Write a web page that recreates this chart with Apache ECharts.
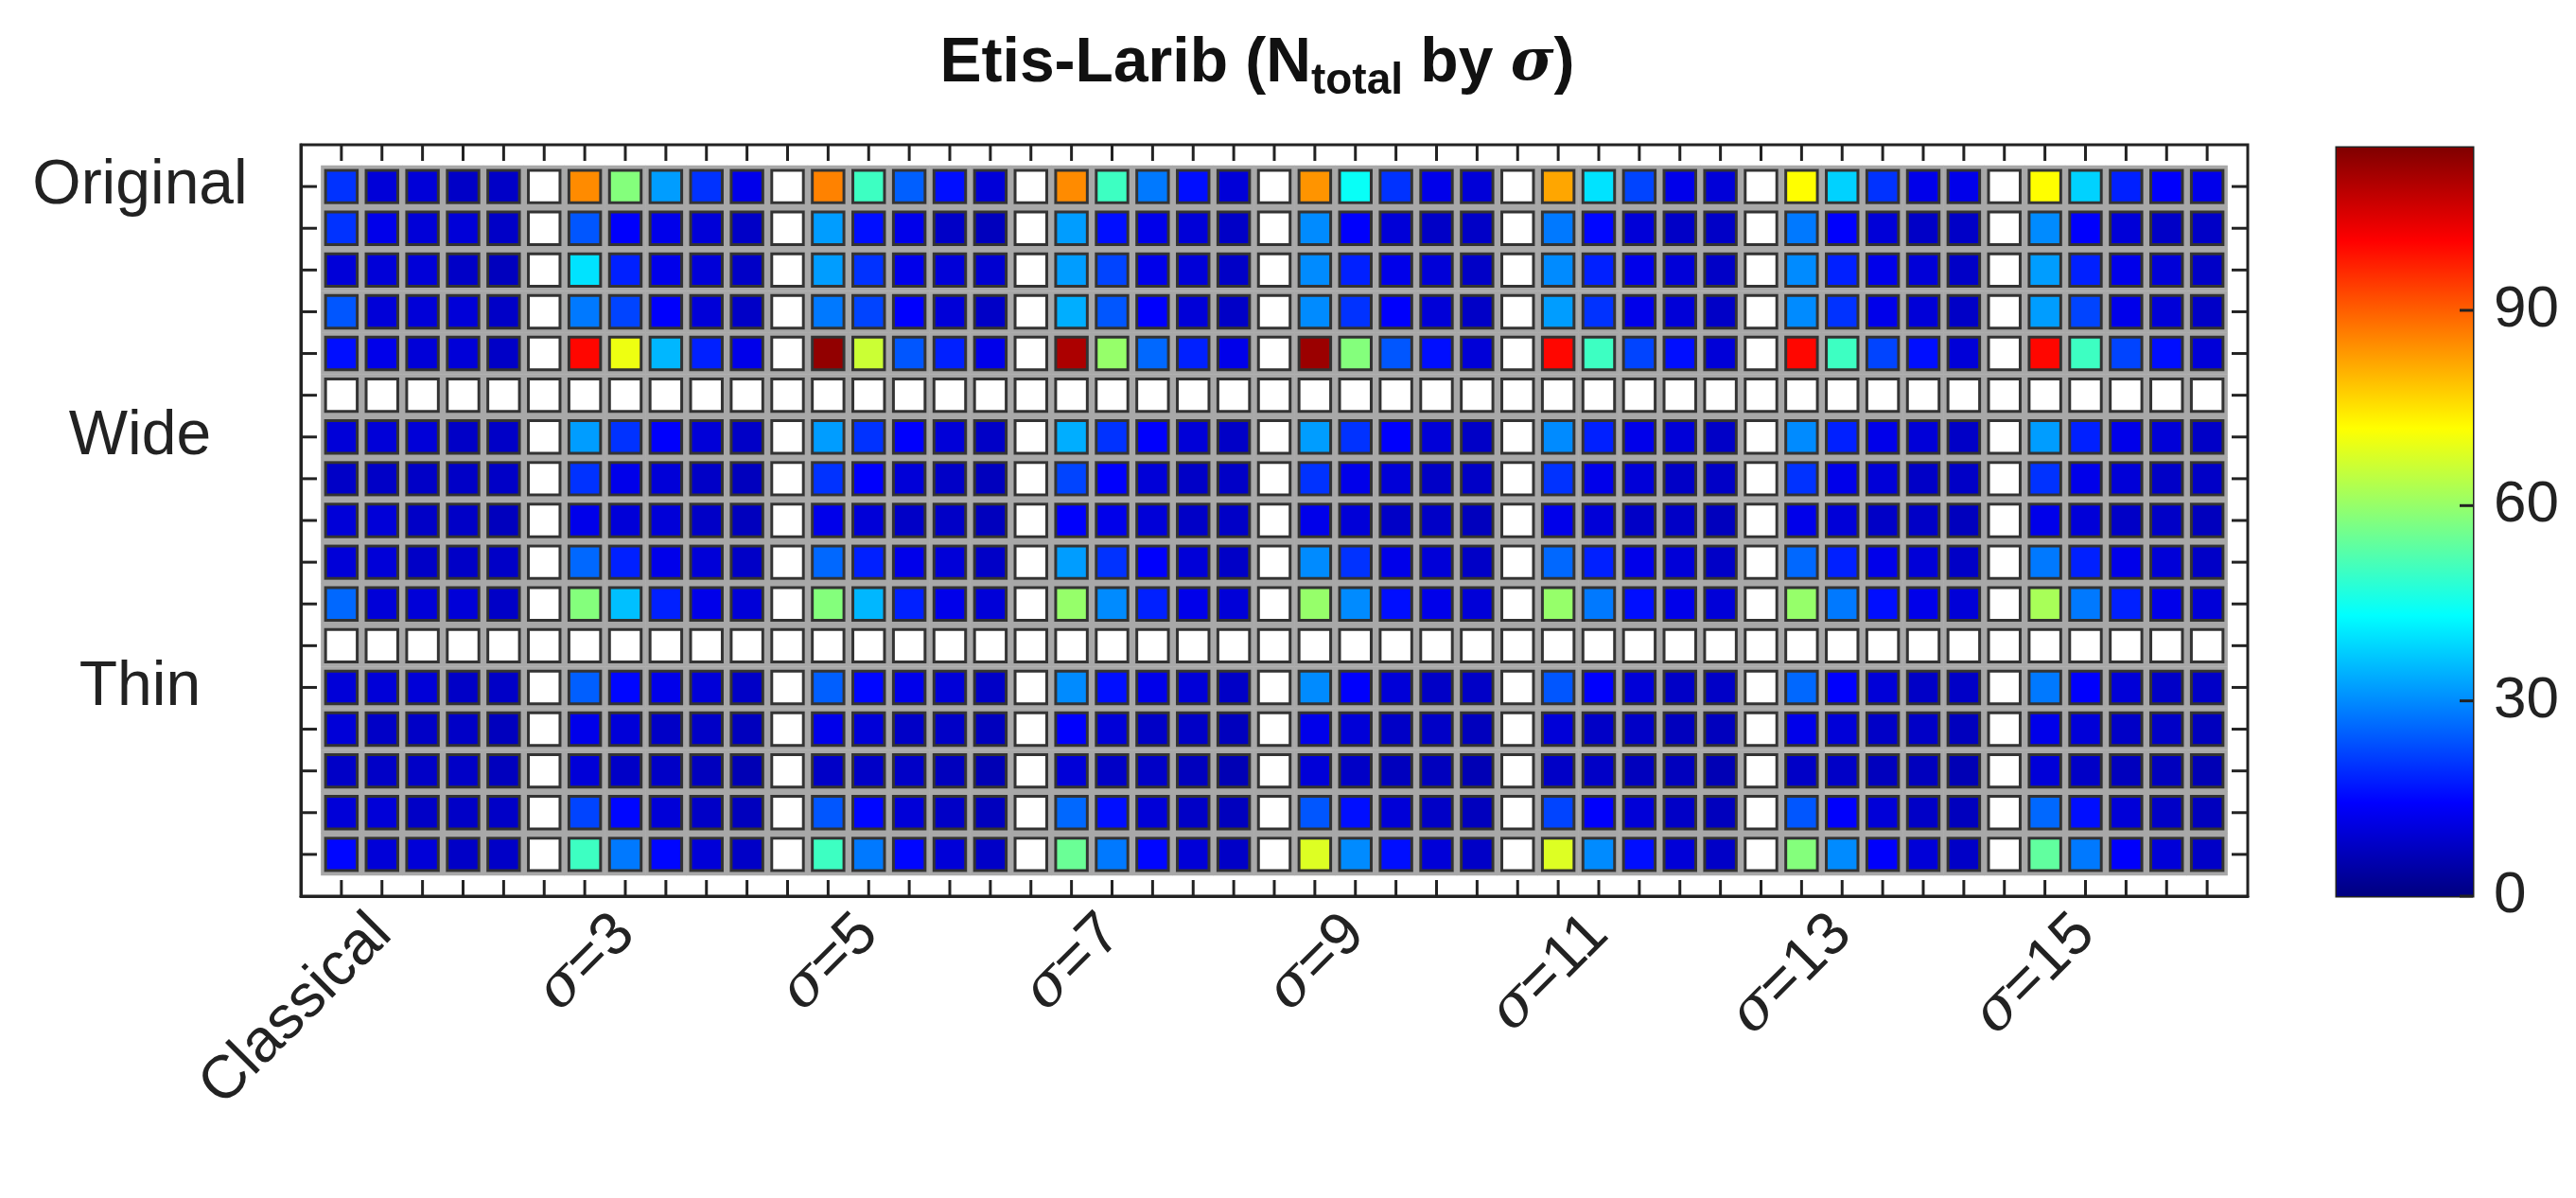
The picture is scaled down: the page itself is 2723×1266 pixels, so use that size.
<!DOCTYPE html>
<html><head><meta charset="utf-8">
<script src="https://cdn.jsdelivr.net/npm/echarts@6/dist/echarts.min.js"></script>
<style>html,body{margin:0;background:#fff}#c{width:2723px;height:1266px}</style>
</head><body><div id="c"></div>
<script>
const _ = null;
const xLabels = {1:'Classical',7:'σ=3',13:'σ=5',19:'σ=7',25:'σ=9',31:'σ=11',37:'σ=13',43:'σ=15'};
const yLabels = {0:'Original',6:'Wide',12:'Thin'};
const cbTicks = [0,30,60,90];
const vmax = 115;
const row0 = [20,10,10,8,8,_,85,58,32,20,12,_,86,50,25,16,10,_,85,50,28,16,10,_,84,44,20,12,10,_,82,40,22,12,10,_,72,38,20,12,12,_,72,38,18,14,12];
const row1 = [20,12,10,10,8,_,24,14,12,10,8,_,32,16,12,8,7,_,32,16,12,10,8,_,30,14,10,8,8,_,28,15,10,8,8,_,28,14,10,8,8,_,30,14,10,8,8];
const row2 = [10,10,10,8,7,_,40,18,12,10,8,_,32,20,12,10,9,_,32,22,12,10,8,_,30,18,12,10,8,_,30,18,12,10,8,_,30,18,12,10,8,_,32,18,12,10,8];
const row3 = [24,10,10,10,8,_,28,22,14,10,8,_,28,22,14,10,8,_,34,24,14,10,8,_,30,20,14,10,8,_,32,20,12,10,8,_,30,20,12,10,8,_,32,22,12,10,8];
const row4 = [16,12,10,10,8,_,100,70,35,18,12,_,113,66,24,18,12,_,110,60,26,18,12,_,112,58,24,16,10,_,100,50,22,16,10,_,100,50,22,16,10,_,100,50,22,16,10];
const row5 = [_,_,_,_,_,_,_,_,_,_,_,_,_,_,_,_,_,_,_,_,_,_,_,_,_,_,_,_,_,_,_,_,_,_,_,_,_,_,_,_,_,_,_,_,_,_,_];
const row6 = [10,10,10,8,8,_,32,20,14,10,8,_,32,20,14,10,8,_,34,20,14,10,8,_,32,20,14,10,8,_,30,18,12,10,8,_,30,18,12,10,8,_,32,18,12,10,8];
const row7 = [8,8,8,8,8,_,20,12,10,8,7,_,20,14,10,8,7,_,22,14,10,8,8,_,20,12,10,8,8,_,20,12,10,8,8,_,20,12,10,8,8,_,20,12,10,8,8];
const row8 = [10,10,8,8,7,_,12,10,10,8,7,_,12,10,8,8,7,_,14,12,10,8,8,_,12,10,8,8,7,_,12,10,8,8,7,_,12,10,8,8,7,_,12,10,8,8,7];
const row9 = [10,10,8,8,8,_,26,18,12,10,8,_,26,18,12,10,8,_,32,20,14,10,8,_,30,20,12,10,8,_,26,18,12,10,8,_,26,18,12,10,8,_,28,18,12,10,8];
const row10 = [26,10,10,10,8,_,58,36,18,12,10,_,58,35,18,12,10,_,60,30,18,12,10,_,60,30,16,12,10,_,60,28,16,12,10,_,60,28,16,12,10,_,62,28,18,12,10];
const row11 = [_,_,_,_,_,_,_,_,_,_,_,_,_,_,_,_,_,_,_,_,_,_,_,_,_,_,_,_,_,_,_,_,_,_,_,_,_,_,_,_,_,_,_,_,_,_,_];
const row12 = [10,10,10,8,8,_,25,15,12,10,8,_,25,15,12,10,8,_,30,16,12,10,8,_,30,14,10,8,8,_,24,14,10,8,8,_,26,14,10,8,8,_,28,14,10,8,8];
const row13 = [10,8,8,8,7,_,12,10,8,8,7,_,12,10,8,8,7,_,14,10,8,8,7,_,12,10,8,8,7,_,10,8,8,7,7,_,12,10,8,8,7,_,12,10,8,8,7];
const row14 = [8,8,8,8,7,_,10,8,8,7,6,_,8,8,8,7,6,_,10,8,8,7,6,_,10,8,7,7,6,_,8,8,7,7,6,_,8,8,7,7,6,_,10,8,7,7,6];
const row15 = [10,10,8,8,8,_,22,15,10,8,7,_,24,15,10,8,7,_,26,16,10,8,7,_,24,16,10,8,7,_,22,14,10,8,7,_,24,14,10,8,7,_,26,16,10,8,7];
const row16 = [15,10,10,8,8,_,50,28,15,10,8,_,50,28,15,10,8,_,55,28,15,10,8,_,68,30,16,10,8,_,68,30,16,10,8,_,58,30,14,10,8,_,54,28,14,10,8];
const rows = [row0,row1,row2,row3,row4,row5,row6,row7,row8,row9,row10,row11,row12,row13,row14,row15,row16];
const jet = ['#000080','#0000ff','#0080ff','#00ffff','#80ff80','#ffff00','#ff8000','#ff0000','#800000'];

const xCats = []; for (let i = -1; i <= 47; i++) xCats.push(String(i));
const yCats = []; for (let i = -1; i <= 17; i++) yCats.push(String(i));

const filled = [], empty = [];
rows.forEach((r, y) => r.forEach((v, x) => { if (v === null) empty.push([String(x), String(y)]); else filled.push([String(x), String(y), v]); }));
const colTicks = row0.map((v, x) => [String(x), '0', 'x']);
const rowTicks = rows.map((r, y) => ['0', String(y), 'y']);

function cell(fillFn) {
  return function (params, api) {
    const c = api.coord([api.value(0), api.value(1)]);
    const s = api.size([1, 1]);
    const w = s[0], h = s[1];
    return {
      type: 'group',
      children: [
        {type: 'rect', shape: {x: c[0] - w*0.46, y: c[1] - h*0.46, width: w*0.92, height: h*0.92},
         style: {fill: 'none', stroke: '#a8a8a8', lineWidth: 4}},
        {type: 'rect', shape: {x: c[0] - w*0.39, y: c[1] - h*0.39, width: w*0.78, height: h*0.78},
         style: {fill: fillFn(api), stroke: '#333', lineWidth: 3}}
      ]
    };
  };
}
function tick(params, api) {
  const cs = params.coordSys;
  const c = api.coord([api.value(0), api.value(1)]);
  const L = 17, st = {stroke: '#222', lineWidth: 3};
  if (api.value(2) === 'x') {
    return {type: 'group', children: [
      {type: 'line', shape: {x1: c[0], y1: cs.y, x2: c[0], y2: cs.y + L}, style: st},
      {type: 'line', shape: {x1: c[0], y1: cs.y + cs.height, x2: c[0], y2: cs.y + cs.height - L}, style: st}
    ]};
  }
  return {type: 'group', children: [
    {type: 'line', shape: {x1: cs.x, y1: c[1], x2: cs.x + L, y2: c[1]}, style: st},
    {type: 'line', shape: {x1: cs.x + cs.width, y1: c[1], x2: cs.x + cs.width - L, y2: c[1]}, style: st}
  ]};
}
function cbTick(params, api) {
  const cs = params.coordSys;
  const c = api.coord(['c', api.value(0)]);
  return {type: 'line', shape: {x1: cs.x + cs.width, y1: c[1], x2: cs.x + cs.width - 14, y2: c[1]},
          style: {stroke: '#222', lineWidth: 3}};
}
const fnt = 'Liberation Sans, Arial, sans-serif';
const lab = {fontFamily: fnt, fontSize: 58, color: '#222'};
function xl(v) {
  const t = xLabels[v]; if (!t) return '';
  if (t.startsWith('σ')) return '{i|σ}' + t.slice(1);
  return t;
}
const lineStyle = {lineStyle: {color: '#222', width: 3}};
const chart = echarts.init(document.getElementById('c'));
chart.setOption({
  animation: false,
  backgroundColor: '#fff',
  title: {
    text: '{b|Etis-Larib (N}{s|total}{b| by }{i|σ}{b|)}',
    left: 1324, top: 22, textAlign: 'center',
    textStyle: {rich: {
      b: {fontFamily: fnt, fontWeight: 'bold', fontSize: 66, color: '#111'},
      s: {fontFamily: fnt, fontWeight: 'bold', fontSize: 46, color: '#111', padding: [36, 0, 0, 0]},
      i: {fontFamily: 'DejaVu Serif, serif', fontStyle: 'italic', fontSize: 62, color: '#111'}
    }}
  },
  grid: [
    {left: 318, top: 153, width: 2058, height: 794, show: true, borderColor: '#222', borderWidth: 3},
    {left: 2470, top: 156, width: 144, height: 791, show: true, borderColor: '#222', borderWidth: 3}
  ],
  xAxis: [
    {gridIndex: 0, type: 'category', data: xCats, boundaryGap: false, position: 'bottom',
     axisLine: lineStyle, axisTick: {show: false},
     axisLabel: {formatter: xl, rotate: 45, margin: 30, interval: 0,
       ...lab, fontSize: 64, rich: {i: {fontFamily: 'DejaVu Serif, serif', fontStyle: 'italic', fontSize: 62, color: '#222'}}}},
    {gridIndex: 1, type: 'category', data: ['c'], show: false}
  ],
  yAxis: [
    {gridIndex: 0, type: 'category', data: yCats, boundaryGap: false, inverse: true, position: 'left',
     axisLine: lineStyle, axisTick: {show: false},
     axisLabel: {formatter: v => yLabels[v] || '', interval: 0, align: 'center', margin: 170, ...lab, fontSize: 66}},
    {gridIndex: 1, type: 'value', min: 0, max: vmax, interval: 30, position: 'right',
     splitLine: {show: false}, axisLine: {show: false}, axisTick: {show: false},
     axisLabel: {formatter: v => cbTicks.includes(v) ? String(v) : '', margin: 22, ...lab, fontSize: 62}}
  ],
  visualMap: {show: false, seriesIndex: 0, dimension: 2, min: 0, max: vmax, inRange: {color: jet}},
  series: [
    {type: 'custom', xAxisIndex: 0, yAxisIndex: 0, data: filled, renderItem: cell(api => api.visual('color'))},
    {type: 'custom', xAxisIndex: 0, yAxisIndex: 0, data: empty, renderItem: cell(() => '#fff')},
    {type: 'custom', xAxisIndex: 0, yAxisIndex: 0, data: colTicks.concat(rowTicks), renderItem: tick, silent: true},
    {type: 'bar', xAxisIndex: 1, yAxisIndex: 1, data: [vmax], barWidth: '100%', silent: true,
     itemStyle: {color: new echarts.graphic.LinearGradient(0, 1, 0, 0, jet.map((c, i) => ({offset: i / (jet.length - 1), color: c})))}},
    {type: 'custom', xAxisIndex: 1, yAxisIndex: 1, data: cbTicks.map(v => [v]), encode: {y: 0}, renderItem: cbTick, silent: true, z: 5}
  ]
});
</script></body></html>
